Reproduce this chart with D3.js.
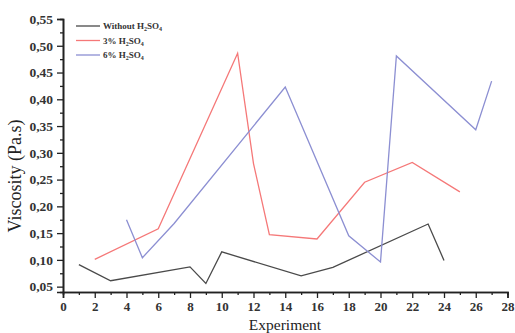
<!DOCTYPE html>
<html><head><meta charset="utf-8">
<script src="https://cdn.jsdelivr.net/npm/d3@7"></script>
<style>body{margin:0;background:#fff}svg{display:block}text{font-family:"Liberation Serif","DejaVu Serif",serif}</style>
</head><body><svg id="c" width="515" height="333"></svg>
<script>
const seriesNames = ["Without H2SO4", "3% H2SO4", "6% H2SO4"];
const colors = ["#4a4a4a", "#f57878", "#8c8fd2"];
const withoutX = [1, 3, 8, 9, 10, 15, 17, 23, 24];
const withoutY = [0.091, 0.061, 0.087, 0.056, 0.115, 0.070, 0.086, 0.167, 0.099];
const acid3X = [2, 6, 11, 12, 13, 16, 19, 22, 25];
const acid3Y = [0.101, 0.158, 0.486, 0.280, 0.147, 0.139, 0.245, 0.282, 0.227];
const acid6X = [4, 5, 7, 14, 18, 20, 21, 26, 27];
const acid6Y = [0.175, 0.104, 0.168, 0.423, 0.145, 0.096, 0.481, 0.343, 0.434];
const xTicks = [0,2,4,6,8,10,12,14,16,18,20,22,24,26,28];
const yTicks = [0.05,0.10,0.15,0.20,0.25,0.30,0.35,0.40,0.45,0.50,0.55];

const svg = d3.select("#c");
const x = d3.scaleLinear().domain([0,28]).range([63,507.5]);
const y = d3.scaleLinear().domain([0.04,0.55]).range([292,19]);
const fmt = v => d3.format(".2f")(v).replace(".", ",");

const line = d3.line().x(d=>x(d[0])).y(d=>y(d[1]));
const data = [
  d3.zip(withoutX, withoutY),
  d3.zip(acid3X, acid3Y),
  d3.zip(acid6X, acid6Y)
];
data.forEach((s,i)=>{
  svg.append("path").datum(s).attr("d", line).attr("fill","none")
    .attr("stroke", colors[i]).attr("stroke-width", 1.3).attr("stroke-linejoin","miter");
});

// axes
const xAxis = svg.append("g").attr("transform","translate(0,292)");
xAxis.call(d3.axisBottom(x).tickValues(d3.range(1,28,2)).tickSize(3).tickFormat(""));
xAxis.call(g=>{
  const a = d3.axisBottom(x).tickValues(xTicks).tickSize(6).tickPadding(4).tickFormat(d3.format("d"));
  g.append("g").call(a);
});
xAxis.selectAll("path.domain").attr("stroke","#222").attr("stroke-width",1.6);
xAxis.selectAll("line").attr("stroke","#222").attr("stroke-width",1.3);
xAxis.selectAll("text").attr("font-size",13).attr("font-weight","bold").attr("fill","#333");

const yAxis = svg.append("g").attr("transform","translate(63,0)");
yAxis.call(d3.axisLeft(y).tickValues(d3.range(0.075,0.55,0.05)).tickSize(3).tickFormat(""));
yAxis.call(g=>{
  g.append("g").call(d3.axisLeft(y).tickValues(yTicks).tickSize(6).tickPadding(4).tickFormat(fmt));
});
yAxis.selectAll("path.domain").attr("stroke","#222").attr("stroke-width",1.6);
yAxis.selectAll("line").attr("stroke","#222").attr("stroke-width",1.3);
yAxis.selectAll("text").attr("font-size",13.5).attr("font-weight","bold").attr("fill","#333");

svg.append("text").attr("x",285).attr("y",330).attr("text-anchor","middle")
  .attr("font-size",15.5).attr("fill","#222").text("Experiment");
svg.append("text").attr("transform","translate(21,176) rotate(-90)").attr("text-anchor","middle")
  .attr("font-size",18).attr("fill","#222").text("Viscosity (Pa.s)");

// legend
const leg = svg.append("g");
seriesNames.forEach((n,i)=>{
  const yy = 26 + i*14.5;
  leg.append("line").attr("x1",76).attr("x2",100).attr("y1",yy).attr("y2",yy)
    .attr("stroke",colors[i]).attr("stroke-width",1.3);
  const t = leg.append("text").attr("x",103).attr("y",yy+3).attr("font-size",9)
    .attr("font-weight","bold").attr("fill","#333");
  const m = n.match(/^(.*H)2SO4$/);
  t.append("tspan").text(m[1]);
  t.append("tspan").attr("font-size",6).attr("dy",2).text("2");
  t.append("tspan").attr("dy",-2).text("SO");
  t.append("tspan").attr("font-size",6).attr("dy",2).text("4");
});
</script></body></html>
